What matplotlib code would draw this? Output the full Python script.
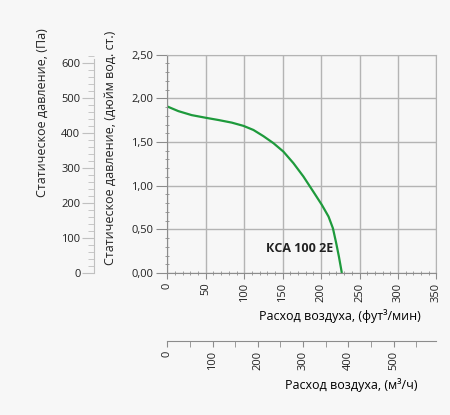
import numpy as np
import matplotlib.pyplot as plt
from matplotlib.ticker import MultipleLocator, FuncFormatter

# Data (CFM vs in. wg)
flow_cfm = [0, 14.3, 31.7, 50.4, 66.5, 83.9, 99, 112, 125, 138, 151, 164, 177,
            190, 201, 209.7, 215.4, 219.7, 223.2, 227]
press_inwg = [1.907, 1.854, 1.808, 1.777, 1.752, 1.722, 1.685, 1.638, 1.567, 1.487,
              1.39, 1.258, 1.105, 0.93, 0.78, 0.646, 0.512, 0.34, 0.187, 0.0]
curve_name = "КСА 100 2E"

CFM_TO_M3H = 1.699
INWG_TO_PA = 249.09
X_MAX = 350
Y_MAX = 2.5

BG = "#f7f7f7"
GRID = "#b4b4b4"
AXC = "#8c8c8c"
TXT = "#222222"
GREEN = "#1e9a3c"

plt.rcParams.update({
    "font.family": ["Open Sans", "DejaVu Sans"],
    "font.size": 8,
    "text.color": TXT,
    "xtick.color": AXC,
    "ytick.color": AXC,
    "xtick.labelcolor": TXT,
    "ytick.labelcolor": TXT,
})

def comma2(x, pos): return f"{x:.2f}".replace(".", ",")

fig = plt.figure(figsize=(4.5, 4.15), dpi=100, facecolor=BG)

# Main chart
ax = fig.add_axes([0.3718, 0.3422, 0.598, 0.526], facecolor=BG)
ax.plot(flow_cfm, press_inwg, color=GREEN, lw=1.6, solid_capstyle="butt")
ax.set_xlim(0, X_MAX)
ax.set_ylim(0, Y_MAX)
ax.xaxis.set_major_locator(MultipleLocator(50))
ax.xaxis.set_minor_locator(MultipleLocator(10))
ax.yaxis.set_major_locator(MultipleLocator(0.5))
ax.yaxis.set_minor_locator(MultipleLocator(0.1))
ax.yaxis.set_major_formatter(FuncFormatter(comma2))
ax.grid(True, which="major", color=GRID, lw=1)
for s in ("top", "right"):
    ax.spines[s].set_color(GRID)
for s in ("left", "bottom"):
    ax.spines[s].set_color(AXC)
ax.tick_params(axis="x", which="major", direction="out", length=4, labelrotation=90, pad=3)
ax.tick_params(axis="x", which="minor", direction="inout", length=3)
ax.tick_params(axis="y", which="major", direction="out", length=8, pad=2)
ax.tick_params(axis="y", which="minor", direction="inout", length=3)
ax.text(216, 0.283, curve_name, ha="right", va="center", fontsize=9, fontweight="bold")
ax.set_xlabel("Расход воздуха, (фут³/мин)", fontsize=9, ha="right", x=0.94, labelpad=5)

# Pa axis on the far left
axp = fig.add_axes([0.208, 0.3422, 0.001, 0.526], facecolor="none")
axp.set_ylim(0, Y_MAX * INWG_TO_PA)
for s in ("top", "right", "bottom"):
    axp.spines[s].set_visible(False)
axp.spines["left"].set_color("#c0c0c0")
axp.spines["left"].set_bounds(0, 610)
axp.set_xticks([])
axp.yaxis.set_major_locator(MultipleLocator(100))
axp.yaxis.set_minor_locator(MultipleLocator(20))
axp.set_yticks([t for t in np.arange(0, 601, 100)])
axp.tick_params(axis="y", which="major", direction="out", length=9, color="#c0c0c0", pad=0.5)
axp.tick_params(axis="y", which="minor", direction="out", length=4, color="#c0c0c0")

# m3/h axis underneath
axm = fig.add_axes([0.3718, 0.179, 0.598, 0.0001], facecolor="none")
axm.set_xlim(0, X_MAX * CFM_TO_M3H)
for s in ("top", "right", "left"):
    axm.spines[s].set_visible(False)
axm.spines["bottom"].set_color(AXC)
axm.set_yticks([])
axm.xaxis.set_major_locator(MultipleLocator(100))
axm.xaxis.set_minor_locator(MultipleLocator(50))
axm.tick_params(axis="x", which="major", direction="out", length=4, labelrotation=90, pad=3)
axm.tick_params(axis="x", which="minor", direction="out", length=4)
axm.set_xlabel("Расход воздуха, (м³/ч)", fontsize=9, ha="right", x=0.93, labelpad=6)

fig.text(42 / 450, 1 - 113 / 415, "Статическое давление, (Па)", rotation=90,
         ha="center", va="center", fontsize=9)
fig.text(110 / 450, 1 - 148 / 415, "Статическое давление, (дюйм вод. ст.)", rotation=90,
         ha="center", va="center", fontsize=9)

fig.savefig("out.png", dpi=100, facecolor=BG)
